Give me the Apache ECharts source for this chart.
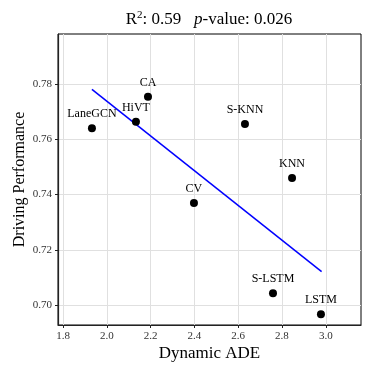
<!DOCTYPE html>
<html>
<head>
<meta charset="utf-8">
<script src="https://cdn.jsdelivr.net/npm/echarts@6/dist/echarts.min.js"></script>
<style>html,body{margin:0;padding:0;background:#fff}#chart{width:374px;height:374px}</style>
</head>
<body>
<div id="chart"></div>
<script>
// 模型名称及数值
var models = ['LaneGCN', 'CA', 'HiVT', 'S-KNN', 'KNN', 'CV', 'S-LSTM', 'LSTM'];
var ade = [1.932, 2.188, 2.133, 2.631, 2.846, 2.398, 2.759, 2.978];
var perf = [0.764, 0.7753, 0.7663, 0.7655, 0.746, 0.737, 0.7044, 0.6968];
// 回归线两端
var fitX = [1.932, 2.981];
var fitY = [0.778, 0.7122];
var xTicks = [1.8, 2.0, 2.2, 2.4, 2.6, 2.8, 3.0];
var yTicks = [0.70, 0.72, 0.74, 0.76, 0.78];

var font = 'Liberation Serif';
var chart = echarts.init(document.getElementById('chart'));

var points = [];
for (var i = 0; i < models.length; i++) {
	points.push({ name: models[i], value: [ade[i], perf[i]] });
}
var line = [];
for (var j = 0; j < fitX.length; j++) {
	line.push([fitX[j], fitY[j]]);
}

var option = {
	animation: false,
	title: {
		left: 204,
		top: 5,
		textAlign: 'center',
		text: '{n|R}{s|2}{n|: 0.59   }{i|p}{n|-value: 0.026}',
		textStyle: {
			fontWeight: 'normal',
			rich: {
				n: { fontFamily: font, fontSize: 17, fontWeight: 'normal', color: '#000' },
				s: { fontFamily: font, fontSize: 11, fontWeight: 'normal', color: '#000', verticalAlign: 'top', padding: [0, 0, 8, 0] },
				i: { fontFamily: font, fontSize: 17, fontWeight: 'normal', color: '#000', fontStyle: 'italic' }
			}
		}
	},
	grid: {
		left: 58, right: 13, top: 34, bottom: 49,
		outerBoundsMode: 'none',
		show: true, borderColor: '#000', borderWidth: 1
	},
	xAxis: {
		type: 'value',
		min: 1.777, max: 3.161,
		name: 'Dynamic ADE',
		nameLocation: 'middle',
		nameGap: 20,
		nameMoveOverlap: false,
		nameTextStyle: { fontFamily: font, fontSize: 17, color: '#000' },
		axisLine: { lineStyle: { color: '#222', width: 1.2 } },
		axisTick: { show: true, length: 3, customValues: xTicks, lineStyle: { color: '#222' } },
		axisLabel: {
			customValues: xTicks,
			fontFamily: font, fontSize: 11, color: '#333', margin: 6,
			formatter: function (v) { return v.toFixed(1); }
		},
		splitLine: { show: true, lineStyle: { color: '#e0e0e0', width: 1 } }
	},
	yAxis: {
		type: 'value',
		min: 0.6929, max: 0.798,
		name: 'Driving Performance',
		nameLocation: 'middle',
		nameGap: 30,
		nameMoveOverlap: false,
		nameTextStyle: { fontFamily: font, fontSize: 16, color: '#000' },
		axisLine: { show: true, lineStyle: { color: '#222', width: 1.2 } },
		axisTick: { show: true, length: 3, customValues: yTicks, lineStyle: { color: '#222' } },
		axisLabel: {
			customValues: yTicks,
			fontFamily: font, fontSize: 11, color: '#333', margin: 6,
			formatter: function (v) { return v.toFixed(2); }
		},
		splitLine: { show: true, lineStyle: { color: '#e0e0e0', width: 1 } }
	},
	series: [{
		type: 'line',
		data: line,
		symbol: 'none',
		lineStyle: { color: '#0000ff', width: 1.5 },
		z: 3
	}, {
		type: 'scatter',
		data: points,
		symbolSize: 8,
		itemStyle: { color: '#000', opacity: 1 },
		label: {
			show: true,
			position: 'top',
			distance: 4,
			formatter: '{b}',
			fontFamily: font, fontSize: 12, color: '#000'
		},
		z: 4
	}]
};
chart.setOption(option);
</script>
</body>
</html>
